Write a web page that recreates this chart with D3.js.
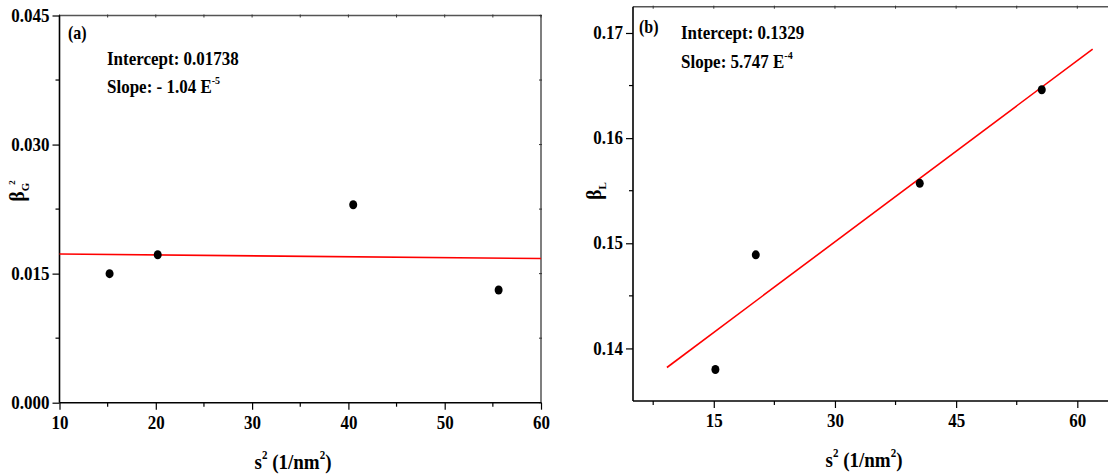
<!DOCTYPE html>
<html><head><meta charset="utf-8">
<script src="https://cdn.jsdelivr.net/npm/d3@7"></script>
<style>
body{margin:0;background:#fff;}
</style></head>
<body><svg id="c" width="1108" height="474"></svg>
<script>
// Panel (a): beta_G^2 vs s^2
const xA = [15.2, 20.2, 40.5, 55.6];
const yA = [0.0150, 0.0172, 0.0230, 0.0131];
const fitA = {intercept: 0.01738, slope: -1.04e-5, x0: 10, x1: 60};
const xTicksA = [10, 20, 30, 40, 50, 60];
const yTicksA = [0.000, 0.015, 0.030, 0.045];

// Panel (b): beta_L vs s^2
const xB = [15.2, 20.2, 40.5, 55.6];
const yB = [0.1380, 0.1489, 0.1557, 0.1646];
const fitB = {intercept: 0.1329, slope: 5.747e-4, x0: 9.2, x1: 61.9};
const xTicksB = [15, 30, 45, 60];
const yTicksB = [0.14, 0.15, 0.16, 0.17];

const SERIF = '"Liberation Serif", "Times New Roman", Tinos, serif';
const SY = 1.12;
const svg = d3.select("#c");

function styleText(sel, size) {
  return sel.style("font-family", SERIF).style("font-weight", "bold")
    .style("font-size", size + "px").style("fill", "#000");
}
function stext(parent, x, y, size) {
  const g = parent.append("g").attr("transform", `translate(${x},${y}) scale(1,${SY})`);
  return styleText(g.append("text"), size);
}

function panel(o) {
  const g = svg.append("g");
  const x = d3.scaleLinear().domain(o.xd).range([o.L, o.R]);
  const y = d3.scaleLinear().domain(o.yd).range([o.B, o.T]);
  const xMinor = o.xMinor, yMinor = o.yMinor;

  g.append("line").attr("x1", o.L).attr("x2", o.R).attr("y1", o.T).attr("y2", o.T)
    .attr("stroke", "#555").attr("stroke-width", 1.5);
  g.append("line").attr("x1", o.R).attr("x2", o.R).attr("y1", o.T).attr("y2", o.B)
    .attr("stroke", "#555").attr("stroke-width", 1.5);
  g.append("g").selectAll("line").data(o.xTicks.concat(xMinor)).join("line")
    .attr("x1", d => x(d)).attr("x2", d => x(d)).attr("y1", o.T - 1).attr("y2", o.T + 2)
    .attr("stroke", "#333").attr("stroke-width", 1);
  g.append("g").selectAll("line").data(o.yTicks.concat(yMinor)).join("line")
    .attr("x1", o.R - 2).attr("x2", o.R + 1).attr("y1", d => y(d)).attr("y2", d => y(d))
    .attr("stroke", "#333").attr("stroke-width", 1);

  const ax = g.append("g").attr("transform", `translate(0,${o.B})`)
    .call(d3.axisBottom(x).tickValues(o.xTicks).tickSize(7).tickPadding(4).tickSizeOuter(0).tickFormat(d3.format("d")));
  ax.append("g").selectAll("line").data(xMinor).join("line")
    .attr("x1", d => x(d)).attr("x2", d => x(d)).attr("y1", 0).attr("y2", 4)
    .attr("stroke", "#000").attr("stroke-width", 1.2);
  const ay = g.append("g").attr("transform", `translate(${o.L},0)`)
    .call(d3.axisLeft(y).tickValues(o.yTicks).tickSize(7).tickPadding(3).tickSizeOuter(0).tickFormat(d3.format(o.yFmt)));
  ay.append("g").selectAll("line").data(yMinor).join("line")
    .attr("x1", 0).attr("x2", -4).attr("y1", d => y(d)).attr("y2", d => y(d))
    .attr("stroke", "#000").attr("stroke-width", 1.2);
  [ax, ay].forEach(a => {
    a.select(".domain").attr("stroke", "#000").attr("stroke-width", 1.6);
    a.selectAll(".tick line").attr("stroke", "#000").attr("stroke-width", 1.2);
    styleText(a.selectAll(".tick text"), 17).attr("transform", `scale(1,${SY})`);
  });
  ay.selectAll(".tick text").attr("dy", "0.30em");
  ax.select(".domain").attr("d", `M${o.L},0H${o.R}`);
  ay.select(".domain").attr("d", `M0,${o.B}V${o.T}`);

  g.append("line")
    .attr("x1", x(o.fit.x0)).attr("y1", y(o.fit.intercept + o.fit.slope * o.fit.x0))
    .attr("x2", x(o.fit.x1)).attr("y2", y(o.fit.intercept + o.fit.slope * o.fit.x1))
    .attr("stroke", "#ff0000").attr("stroke-width", 1.6);

  g.append("g").selectAll("ellipse").data(o.xs.map((v, i) => [v, o.ys[i]])).join("ellipse")
    .attr("cx", d => x(d[0])).attr("cy", d => y(d[1])).attr("rx", 4).attr("ry", 4.5)
    .attr("fill", "#000");

  stext(g, o.lab[0], o.lab[1], 16).text(o.label);
  stext(g, o.ann[0], o.ann[1], 17).text(o.t1);
  const s = stext(g, o.ann[0], o.ann[1] + o.annGap, 17);
  s.append("tspan").text(o.t2);
  s.append("tspan").style("font-size", "10px").attr("dy", -8).text(o.t2sup);

  const xl = stext(g, o.xl[0], o.xl[1], 19).attr("text-anchor", "middle");
  xl.append("tspan").text("s");
  xl.append("tspan").style("font-size", "11px").attr("dy", -9).text("2");
  xl.append("tspan").attr("dy", 9).text(" (1/nm");
  xl.append("tspan").style("font-size", "11px").attr("dy", -9).text("2");
  xl.append("tspan").attr("dy", 9).text(")");

  const yl = styleText(g.append("text"), 20)
    .attr("transform", `translate(${o.yl[0]},${o.yl[1]}) rotate(-90)`)
    .attr("text-anchor", "middle");
  yl.append("tspan").text("β");
  yl.append("tspan").style("font-size", "11px").attr("dy", 5).text(o.ysub);
  if (o.ysup) yl.append("tspan").style("font-size", "9px").attr("dy", -14).attr("dx", -2).text(o.ysup);
}

panel({
  L: 59.5, R: 541, T: 15.5, B: 402.7, xd: [10, 60], yd: [0, 0.045],
  xTicks: xTicksA, yTicks: yTicksA, xMinor: [15, 25, 35, 45, 55], yMinor: [0.0075, 0.0225, 0.0375],
  yFmt: ".3f", xs: xA, ys: yA, fit: fitA,
  label: "(a)", lab: [68, 39], ann: [107, 65], annGap: 28,
  t1: "Intercept: 0.01738", t2: "Slope: - 1.04 E", t2sup: "-5",
  xl: [293, 469], yl: [24, 191], ysub: "G", ysup: "2"
});

panel({
  L: 633, R: 1117.7, T: 6.7, B: 401, xd: [5, 65], yd: [0.135, 0.1725],
  xTicks: xTicksB, yTicks: yTicksB, xMinor: [7.5, 22.5, 37.5, 52.5], yMinor: [0.145, 0.155, 0.165],
  yFmt: ".2f", xs: xB, ys: yB, fit: fitB,
  label: "(b)", lab: [639, 33], ann: [681, 39], annGap: 29,
  t1: "Intercept: 0.1329", t2: "Slope: 5.747 E", t2sup: "-4",
  xl: [864, 467], yl: [601, 191], ysub: "L", ysup: null
});
</script></body></html>
